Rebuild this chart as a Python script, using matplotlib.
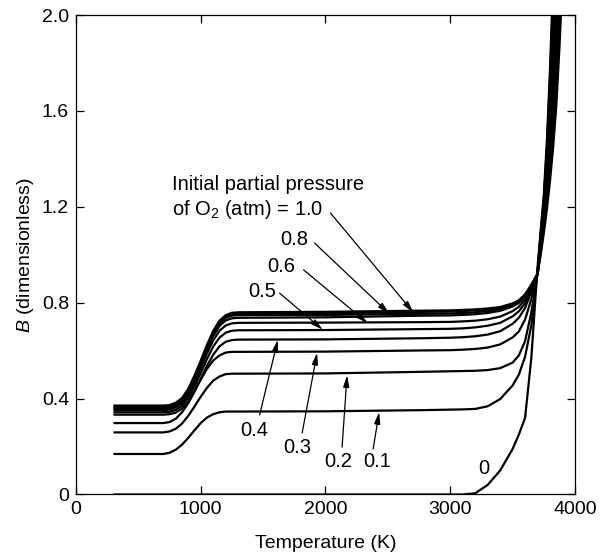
import matplotlib
matplotlib.use("Agg")
import matplotlib.pyplot as plt

plt.rcParams['font.family'] = ['Liberation Sans', 'DejaVu Sans']
plt.rcParams['mathtext.fontset'] = 'custom'
plt.rcParams['mathtext.rm'] = 'Liberation Sans'
plt.rcParams['mathtext.it'] = 'Liberation Sans:italic'

# ---------------- data ----------------
temperature = [300, 700, 750, 800, 850, 900, 950, 1000, 1050, 1100, 1150, 1200, 1250,
               1300, 2000, 2800, 3000, 3100, 3200, 3300, 3400, 3500, 3550, 3600, 3650,
               3700, 3725, 3750, 3775, 3800, 3825, 3850, 3875, 3900, 3950, 4000]

pressures = [0.0, 0.1, 0.2, 0.3, 0.4, 0.5, 0.6, 0.7, 0.8, 0.9, 1.0]

B_p00 = [0, 0, 0, 0, 0, 0, 0, 0, 0, 0, 0, 0, 0, 0, 0, 0, 0, 0,
         0.005, 0.04, 0.10, 0.19, 0.25, 0.32, 0.57, 0.95,
         1.10, 1.25, 1.48, 1.78, 2.15, 2.50, 2.90, 3.30, 4.00, 4.80]
B_p01 = [.169, .169, .174, .187, .208, .236, .268, .298, .321, .335, .343, .346, .346,
         .346, .347, .352, .354, .355, .357, .368, .398, .455, .500, .575, .705, .930,
         1.09, 1.23, 1.45, 1.73, 2.08, 2.41, 2.80, 3.19, 3.87, 4.67]
B_p02 = [.259, .259, .263, .274, .296, .328, .367, .408, .445, .475, .492, .502, .504,
         .504, .505, .512, .514, .515, .516, .519, .527, .550, .580, .640, .760, .925,
         1.08, 1.22, 1.42, 1.69, 2.01, 2.32, 2.69, 3.07, 3.74, 4.54]
B_p03 = [.298, .298, .302, .316, .343, .381, .429, .479, .524, .559, .580, .592, .595,
         .595, .596, .601, .602, .604, .607, .613, .626, .655, .680, .730, .815, .920,
         1.07, 1.20, 1.39, 1.64, 1.94, 2.24, 2.59, 2.96, 3.61, 4.41]
B_p04 = [.333, .333, .335, .342, .358, .389, .433, .483, .537, .583, .618, .637, .644,
         .646, .647, .652, .654, .656, .660, .667, .681, .712, .737, .778, .845, .920,
         1.06, 1.19, 1.36, 1.59, 1.87, 2.15, 2.48, 2.84, 3.48, 4.28]
B_p05 = [.343, .343, .345, .353, .370, .405, .452, .507, .565, .617, .654, .675, .683,
         .685, .686, .690, .691, .693, .697, .704, .716, .743, .764, .798, .855, .920,
         1.05, 1.17, 1.34, 1.55, 1.80, 2.06, 2.38, 2.73, 3.35, 4.15]
B_p06 = [.352, .352, .354, .363, .381, .418, .469, .527, .589, .643, .683, .705, .714,
         .716, .717, .719, .720, .722, .725, .731, .742, .765, .783, .813, .862, .920,
         1.04, 1.15, 1.31, 1.50, 1.73, 1.97, 2.28, 2.61, 3.22, 4.02]
B_p07 = [.358, .358, .360, .369, .388, .426, .479, .540, .604, .661, .703, .726, .735,
         .737, .739, .746, .747, .749, .752, .757, .766, .784, .799, .826, .870, .920,
         1.03, 1.14, 1.28, 1.45, 1.66, 1.88, 2.17, 2.50, 3.09, 3.89]
B_p08 = [.363, .363, .365, .375, .394, .432, .486, .548, .613, .671, .713, .737, .746,
         .748, .749, .754, .755, .757, .760, .765, .773, .790, .804, .830, .872, .920,
         1.02, 1.12, 1.25, 1.40, 1.59, 1.80, 2.07, 2.38, 2.96, 3.76]
B_p09 = [.367, .367, .369, .379, .398, .437, .491, .553, .619, .677, .720, .743, .753,
         .755, .756, .762, .763, .765, .768, .772, .779, .795, .808, .833, .873, .920,
         1.01, 1.11, 1.22, 1.36, 1.52, 1.71, 1.96, 2.27, 2.83, 3.63]
B_p10 = [.371, .371, .373, .383, .402, .441, .496, .558, .624, .682, .725, .748, .758,
         .760, .762, .767, .768, .770, .772, .776, .782, .797, .810, .835, .875, .920,
         1.00, 1.09, 1.19, 1.31, 1.45, 1.62, 1.86, 2.15, 2.80, 3.50]

curves = [B_p00, B_p01, B_p02, B_p03, B_p04, B_p05, B_p06, B_p07, B_p08, B_p09, B_p10]

x_ticks = [0, 1000, 2000, 3000, 4000]
x_ticklabels = ["0", "1000", "2000", "3000", "4000"]
y_ticks = [0, 0.4, 0.8, 1.2, 1.6, 2.0]
y_ticklabels = ["0", "0.4", "0.8", "1.2", "1.6", "2.0"]

# ---------------- figure ----------------
fig = plt.figure(figsize=(6.05, 5.58), dpi=100)
ax = fig.add_axes([0.1256, 0.1138, 0.8248, 0.8593])

for B in curves:
    ax.plot(temperature, B, color='black', lw=1.6, solid_capstyle='butt',
            solid_joinstyle='round', clip_on=True)

ax.set_xlim(0, 4000)
ax.set_ylim(0, 2.0)
ax.set_xticks(x_ticks)
ax.set_xticklabels(x_ticklabels)
ax.set_yticks(y_ticks)
ax.set_yticklabels(y_ticklabels)
ax.tick_params(direction='in', length=5.5, width=0.9, top=True, right=True,
               labelsize=14, colors='black')
ax.tick_params(axis='x', pad=5)
ax.tick_params(axis='y', pad=5)
for s in ax.spines.values():
    s.set_linewidth(0.9)

ax.set_xlabel("Temperature (K)", fontsize=14, labelpad=12)
ax.set_ylabel("$B$ (dimensionless)", fontsize=14, labelpad=4)

# annotation text
ax.text(770, 1.292, "Initial partial pressure", fontsize=14.5, ha='left', va='center')
ax.text(770, 1.188, "of O$_2$ (atm) = 1.0", fontsize=14.5, ha='left', va='center')

arrow_kw = dict(arrowstyle='-|>,head_length=0.7,head_width=0.18', color='black',
                lw=0.9, shrinkA=0, shrinkB=0)

# (label, text position, arrow tail, arrow head)
labels = [
    ("", (2040, 1.174), (2040, 1.174), (2705, 0.759)),
    ("0.8", (1752, 1.063), (1912, 1.049), (2512, 0.754)),
    ("0.6", (1644, 0.951), (1824, 0.937), (2338, 0.715)),
    ("0.5", (1496, 0.847), (1632, 0.840), (1978, 0.687)),
    ("0.4", (1432, 0.269), (1472, 0.332), (1618, 0.645)),
    ("0.3", (1772, 0.198), (1813, 0.257), (1933, 0.591)),
    ("0.2", (2101, 0.136), (2133, 0.198), (2173, 0.498)),
    ("0.1", (2414, 0.136), (2382, 0.190), (2430, 0.344)),
]
for lab, tpos, tail, head in labels:
    if lab:
        ax.text(tpos[0], tpos[1], lab, fontsize=14.5, ha='center', va='center')
    ax.annotate("", xy=head, xytext=tail, arrowprops=arrow_kw)

ax.text(3266, 0.109, "0", fontsize=14.5, ha='center', va='center')

fig.savefig("out.png", dpi=100, facecolor='white')
